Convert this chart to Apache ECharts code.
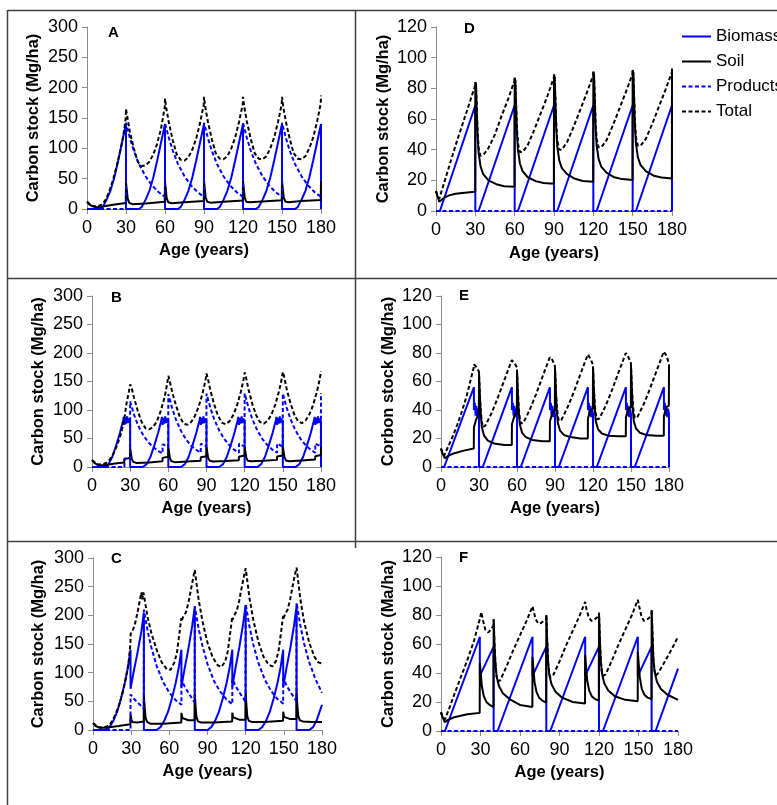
<!DOCTYPE html>
<html>
<head>
<meta charset="utf-8">
<script src="https://cdn.jsdelivr.net/npm/echarts@6/dist/echarts.min.js"></script>
<style>
html, body { margin: 0; padding: 0; background: #fff; }
#chart { width: 777px; height: 805px; }
</style>
</head>
<body>
<div id="chart"></div>
<script>
// axis ticks
var AGE_MIN = 0, AGE_MAX = 180, AGE_STEP = 30;
var arrStockAxisABC = [0, 300, 50];
var arrStockAxisDEF = [0, 120, 20];
var arrLegend = ['Biomass', 'Soil', 'Products', 'Total'];

//#region panel A
var arrBiomassA = [[0,0],[10,0],[12,3],[15,15],[18,30],[21,52],[24,80],[27,110],[30,140],[30,0],
    [40,0],[42,3],[45,15],[48,30],[51,52],[54,80],[57,110],[60,140],[60,0],
    [70,0],[72,3],[75,15],[78,30],[81,52],[84,80],[87,110],[90,140],[90,0],
    [100,0],[102,3],[105,15],[108,30],[111,52],[114,80],[117,110],[120,140],[120,0],
    [130,0],[132,3],[135,15],[138,30],[141,52],[144,80],[147,110],[150,140],[150,0],
    [160,0],[162,3],[165,15],[168,30],[171,52],[174,80],[177,110],[180,140],[180,0]];
var arrSoilA = [[0,12],[2,7],[5,4],[8,3],[12,4],[20,7],[29.8,10],[30,43],[30.6,32],[31.3,17],[32.5,10],[35,8],[45,9],
    [59.8,12],[60,45],[60.6,33],[61.3,18],[62.5,11],[65,9.5],[75,11],
    [89.8,13],[90,46],[90.6,34],[91.3,19],[92.5,12],[95,10.5],[105,12],
    [119.8,14],[120,46],[120.6,34],[121.3,19],[122.5,12],[125,11],[135,12.5],
    [149.8,14.5],[150,46],[150.6,34],[151.3,19],[152.5,12.5],[155,11],[165,13],
    [179.8,15],[180,46]];
var arrProductsA = [[0,0],[30,0],[30,142],[33,117],[36,96],[40,74],[45,54],[50,39],[55,28],[60,20],
    [60,142],[63,117],[66,96],[70,74],[75,54],[80,39],[85,28],[90,20],
    [90,142],[93,117],[96,96],[100,74],[105,54],[110,39],[115,28],[120,20],
    [120,142],[123,117],[126,96],[130,74],[135,54],[140,39],[145,28],[150,20],
    [150,142],[153,117],[156,96],[160,74],[165,54],[170,39],[175,28],[180,20]];
var arrTotalA = [[0,12],[4,5],[8,4],[11,7],[14,14],[17,28],[20,48],[23,72],[26,100],[28,122],[29.8,150],[30,165],
    [31,152],[33,127],[36,100],[39,78],[42,71],[45,72],[48,78],[51,90],[54,108],[57,133],[59.8,168],[60,182],
    [61,166],[63,142],[66,113],[69,90],[72,81],[75,80],[78,85],[81,98],[84,116],[87,142],[89.8,172],[90,185],
    [91,168],[93,144],[96,115],[99,92],[102,83],[105,82],[108,87],[111,100],[114,118],[117,144],[119.8,173],[120,185],
    [121,168],[123,144],[126,115],[129,92],[132,83],[135,82],[138,87],[141,100],[144,118],[147,144],[149.8,173],[150,185],
    [151,168],[153,144],[156,115],[159,92],[162,83],[165,82],[168,87],[171,100],[174,118],[177,144],[179.8,174],[180,187]];
//#endregion

//#region panel B
var arrBiomassB = [[0,0],[10,0],[13,5],[16,18],[19,38],[22,60],[24.5,82],[25,88],[25.5,74],[26.2,86],[26.8,76],[27.6,89],[28.2,77],[29,85],[29.6,78],[30,82],[30,0],
    [40,0],[43,5],[46,18],[49,38],[52,60],[54.5,82],[55,88],[55.5,74],[56.2,86],[56.8,76],[57.6,89],[58.2,77],[59,85],[59.6,78],[60,82],[60,0],
    [70,0],[73,5],[76,18],[79,38],[82,60],[84.5,82],[85,88],[85.5,74],[86.2,86],[86.8,76],[87.6,89],[88.2,77],[89,85],[89.6,78],[90,82],[90,0],
    [100,0],[103,5],[106,18],[109,38],[112,60],[114.5,82],[115,88],[115.5,74],[116.2,86],[116.8,76],[117.6,89],[118.2,77],[119,85],[119.6,78],[120,82],[120,0],
    [130,0],[133,5],[136,18],[139,38],[142,60],[144.5,82],[145,88],[145.5,74],[146.2,86],[146.8,76],[147.6,89],[148.2,77],[149,85],[149.6,78],[150,82],[150,0],
    [160,0],[163,5],[166,18],[169,38],[172,60],[174.5,82],[175,88],[175.5,74],[176.2,86],[176.8,76],[177.6,89],[178.2,77],[179,85],[179.6,78],[180,82],[180,0]];
var arrSoilB = [[0,12],[2,7],[5,3],[10,3],[18,6],[25.4,8],[25.5,14],[29.9,16],[30,32],[30.6,24],[31.3,14],[32.5,9],[35,7],[45,8],
    [55.4,10],[55.5,16],[59.9,18],[60,34],[60.6,25],[61.3,15],[62.5,10],[65,8.5],[75,9.5],
    [85.4,11],[85.5,17],[89.9,19],[90,35],[90.6,26],[91.3,16],[92.5,11],[95,9.5],[105,10.5],
    [115.4,12],[115.5,18],[119.9,20],[120,35],[120.6,26],[121.3,16],[122.5,11],[125,10],[135,11],
    [145.4,12.5],[145.5,18.5],[149.9,20],[150,36],[150.6,27],[151.3,17],[152.5,11.5],[155,10],[165,11.5],
    [175.4,13],[175.5,19],[179.9,21],[180,35]];
var arrProductsB = [[0,0],[25.5,0],[25.5,15],[29.9,14],[30,115],[33,92],[36,74],[40,57],[44,44],[48,35],[52,28],[55.5,24],[55.5,40],[59.9,35],
    [60,128],[63,103],[66,83],[70,63],[74,48],[78,37],[82,30],[85.5,25],[85.5,41],[89.9,36],
    [90,129],[93,104],[96,84],[100,64],[104,49],[108,38],[112,30],[115.5,25],[115.5,41],[119.9,36],
    [120,129],[123,104],[126,84],[130,64],[134,49],[138,38],[142,30],[145.5,25],[145.5,41],[149.9,36],
    [150,129],[153,104],[156,84],[160,64],[164,49],[168,38],[172,30],[175.5,25],[175.5,41],[179.9,36],[180,130]];
var arrTotalB = [[0,12],[4,5],[8,4],[11,7],[14,13],[17,24],[20,40],[23,60],[25.5,85],[27,110],[29,132],[30,145],
    [31,140],[33,122],[36,98],[39,79],[42,68],[45,66],[48,70],[51,80],[54,98],[57,122],[59,145],[60,160],
    [61,152],[63,132],[66,108],[69,88],[72,76],[75,74],[78,79],[81,90],[84,107],[87,130],[89,150],[90,164],
    [91,156],[93,135],[96,110],[99,90],[102,78],[105,75],[108,80],[111,91],[114,108],[117,132],[119,152],[120,166],
    [121,158],[123,136],[126,111],[129,91],[132,79],[135,76],[138,81],[141,92],[144,109],[147,133],[149,153],[150,167],
    [151,159],[153,137],[156,112],[159,92],[162,80],[165,77],[168,82],[171,93],[174,110],[177,134],[179,154],[180,168]];
//#endregion

//#region panel C
var arrBiomassC = [[0,0],[10,0],[13,5],[16,16],[19,32],[22,55],[25,82],[27.5,110],[29.5,140],[29.5,72],[32,102],[35,135],[38,172],[40,205],[40,0],
    [50,0],[53,5],[56,16],[59,32],[62,55],[65,82],[67.5,110],[69.5,140],[69.5,75],[72,107],[75,142],[78,182],[80,215],[80,0],
    [90,0],[93,5],[96,16],[99,32],[102,55],[105,82],[107.5,110],[109.5,140],[109.5,75],[112,108],[115,144],[118,185],[120,218],[120,0],
    [130,0],[133,5],[136,16],[139,32],[142,55],[145,82],[147.5,110],[149.5,140],[149.5,75],[152,107],[155,142],[158,182],[160,215],[160,0],
    [170,0],[173,5],[176,18],[180,44]];
var arrSoilC = [[0,12],[2,7],[5,4],[10,4],[20,7],[29.4,10],[29.5,27],[30.2,18],[31,14],[35,13],[39.9,15],
    [40,60],[40.6,40],[41.3,22],[42.5,14],[45,11],[55,11],[69.4,13],[69.5,30],[70.2,21],[71,18],[75,17],[79.9,17],
    [80,63],[80.6,42],[81.3,23],[82.5,15],[85,13],[95,13],[109.4,15],[109.5,30],[110.2,22],[111,19],[115,18],[119.9,18],
    [120,64],[120.6,43],[121.3,24],[122.5,16],[125,14],[135,14],[149.4,16],[149.5,32],[150.2,23],[151,20],[155,19],[159.9,19],
    [160,65],[160.6,44],[161.3,25],[162.5,17],[165,15],[172,14],[180,14]];
var arrProductsC = [[0,0],[29.5,0],[29.5,62],[32,55],[35,48],[39.9,38],
    [40,210],[43,172],[46,143],[50,112],[55,84],[60,65],[65,52],[69.5,44],[69.5,88],[72,76],[75,65],[79.9,48],
    [80,216],[83,177],[86,147],[90,115],[95,86],[100,67],[105,53],[109.5,45],[109.5,89],[112,77],[115,66],[119.9,49],
    [120,220],[123,180],[126,149],[130,117],[135,88],[140,68],[145,54],[149.5,46],[149.5,90],[152,78],[155,67],[159.9,50],
    [160,222],[163,182],[166,150],[170,118],[175,88],[180,65]];
var arrTotalC = [[0,12],[4,5],[8,4],[11,6],[14,12],[17,24],[20,40],[23,62],[26,92],[28,118],[29.4,150],[29.6,168],
    [31,172],[33,185],[35,205],[37,228],[38,240],[38.8,228],[39.5,240],[40,236],
    [41,222],[43,196],[46,168],[50,140],[54,118],[58,106],[61,105],[64,118],[66,135],[68,170],[69.4,195],[69.6,190],
    [71,198],[73,205],[75,222],[77,245],[79,268],[80,279],
    [81,262],[83,228],[86,190],[90,152],[94,127],[98,113],[101,110],[104,120],[106,138],[108,172],[109.4,197],[109.6,192],
    [111,200],[113,208],[115,226],[117,250],[119,272],[120,282],
    [121,265],[123,230],[126,192],[130,154],[134,128],[138,114],[141,111],[144,121],[146,140],[148,174],[149.4,199],[149.6,194],
    [151,202],[153,210],[155,228],[157,252],[159,274],[160,283],
    [161,265],[163,228],[166,188],[170,152],[174,128],[177,118],[180,116]];
//#endregion

//#region panel D
var arrBiomassD = [[0,0],[3,0],[30,69],[30,0],[32.5,0],[60,69],[60,0],[62.5,0],[90,69],[90,0],
    [92.5,0],[120,69],[120,0],[122.5,0],[150,69],[150,0],[152.5,0],[180,69],[180,0]];
var arrSoilD = [[0,13],[1,10],[2.5,6],[4,6.5],[6,8.5],[10,10.2],[15,11.2],[20,11.8],[29.9,12.5],
    [30,84],[30.5,82],[31,68],[31.7,50],[32.5,38],[34,29],[36,24],[40,20],[46,17.5],[52,16.2],[59.9,15.8],
    [60,87],[60.5,85],[61,71],[61.7,52],[62.5,40],[64,31],[66,26],[70,22],[76,19.5],[82,18.3],[89.9,17.8],
    [90,89],[90.5,87],[91,73],[91.7,54],[92.5,42],[94,33],[96,28],[100,24],[106,21],[112,19.6],[119.9,19],
    [120,91],[120.5,89],[121,75],[121.7,55],[122.5,43],[124,34],[126,29],[130,25],[136,22],[142,20.8],[149.9,20.2],
    [150,92],[150.5,90],[151,76],[151.7,56],[152.5,44],[154,35],[156,30],[160,26],[166,23],[172,21.8],[179.9,21.2],[180,93]];
var arrProductsD = [[0,0],[180,0]];
var arrTotalD = [[0,13],[1,10],[2.5,8],[5,15],[10,29],[15,43],[20,56],[25,69],[29.9,82],[30,84],
    [30.5,82],[31,69],[31.7,52],[32.5,41],[34,36],[36,36.5],[40,41],[45,50],[50,62],[55,73],[59.9,85],[60,87],
    [60.5,85],[61,72],[61.7,55],[62.5,44],[64,38.5],[66,38.5],[70,43],[75,53],[80,64],[85,75],[89.9,87],[90,89],
    [90.5,87],[91,74],[91.7,57],[92.5,46],[94,40],[96,40],[100,45],[105,55],[110,66],[115,77],[119.9,88.5],[120,91],
    [120.5,89],[121,76],[121.7,58],[122.5,47],[124,41.5],[126,41.5],[130,46],[135,56],[140,67],[145,78],[149.9,89.5],[150,92],
    [150.5,90],[151,77],[151.7,59],[152.5,48],[154,42.5],[156,42.5],[160,47],[165,57],[170,68],[175,79],[179.9,90.5],[180,93]];
//#endregion

//#region panel E
var arrBiomassE = [[0,0],[2.5,0],[26,56],[26,40],[26.7,45],[27.3,36],[28,43],[28.6,35],[29.3,41],[30,37],[30,0],
    [33,0],[56,56],[56,40],[56.7,45],[57.3,36],[58,43],[58.6,35],[59.3,41],[60,37],[60,0],
    [63,0],[86,56],[86,40],[86.7,45],[87.3,36],[88,43],[88.6,35],[89.3,41],[90,37],[90,0],
    [93,0],[116,56],[116,40],[116.7,45],[117.3,36],[118,43],[118.6,35],[119.3,41],[120,37],[120,0],
    [123,0],[146,56],[146,40],[146.7,45],[147.3,36],[148,43],[148.6,35],[149.3,41],[150,37],[150,0],
    [153,0],[176,56],[176,40],[176.7,45],[177.3,36],[178,43],[178.6,35],[179.3,41],[180,37],[180,0]];
var arrSoilE = [[0,13],[1,10],[3,6],[5,7.5],[10,9.5],[18,11.5],[25.9,13],[26,28],[27,31],[28,34],[29.9,36],
    [30,66],[30.6,52],[31.3,38],[32.2,28],[34,22],[37,18.5],[42,16.5],[50,15.5],[55.9,15.5],[56,30],[57,33],[58,36],[59.9,38],
    [60,68],[60.6,54],[61.3,40],[62.2,30],[64,24],[67,21],[72,19],[80,18],[85.9,18],[86,32],[87,35],[88,38],[89.9,40],
    [90,69.5],[90.6,55],[91.3,41],[92.2,31],[94,25.5],[97,22.5],[102,21],[110,20],[115.9,20],[116,34],[117,37],[118,40],[119.9,41],
    [120,70.5],[120.6,56],[121.3,42],[122.2,32],[124,26.5],[127,23.5],[132,22],[140,21.5],[145.9,21.5],[146,35],[147,38],[148,41],[149.9,42],
    [150,71],[150.6,56],[151.3,42],[152.2,32],[154,27],[157,24],[162,22.5],[170,22],[175.9,22],[176,36],[177,39],[178,42],[179.9,43],[180,72]];
var arrProductsE = [[0,0],[180,0]];
var arrTotalE = [[0,13],[1,10],[2.5,8],[5,13],[10,23],[15,35],[20,49],[25.9,70],[26,72],[26.5,73],[28,70],[29.9,67],[30,66],
    [30.6,52],[31.3,40],[32.2,32],[33,28],[35,29],[40,38],[45,49],[50,61],[55.9,75],[56,76],[56.5,76],[58,73],[59.9,70],[60,68],
    [60.6,55],[61.3,42],[62.2,34],[63,30.5],[65,31],[70,40],[75,51],[80,63],[85.9,77],[86,78],[86.5,78],[88,75],[89.9,71],[90,69.5],
    [90.6,56],[91.3,44],[92.2,36],[93,32.5],[95,33],[100,42],[105,53],[110,65],[115.9,79],[116,79.5],[116.5,79.5],[118,76],[119.9,72],[120,70.5],
    [120.6,57],[121.3,45],[122.2,37],[123,33.5],[125,34],[130,43],[135,54],[140,66],[145.9,80],[146,80.5],[146.5,81],[148,77],[149.9,73],[150,71],
    [150.6,57],[151.3,46],[152.2,38],[153,34.5],[155,35],[160,44],[165,55],[170,67],[175.9,81],[176,81],[176.5,81.5],[178,78],[179.9,73],[180,72]];
//#endregion

//#region panel F
var arrBiomassF = [[0,0],[3,0],[29.5,65],[29.5,38],[39.9,58],[40,0],[43,0],[69.5,65],[69.5,38],[79.9,58],[80,0],
    [83,0],[109.5,65],[109.5,38],[119.9,58],[120,0],[123,0],[149.5,65],[149.5,38],[159.9,58],[160,0],[163,0],[180,43]];
var arrSoilF = [[0,13],[1,10],[3,6],[5,7.5],[10,9.5],[20,11.5],[29.4,12.5],[29.5,47],[30.2,40],[31,31],[32.5,24],[34.5,20],[37,18],[39.9,16.5],
    [40,77],[40.6,60],[41.3,47],[42.2,38],[44,31],[47,26],[52,22],[60,18],[69.4,16.6],[69.5,51],[70.2,43],[71,34],[72.5,27],[74.5,23],[77,21],[79.9,19.5],
    [80,80],[80.6,63],[81.3,48],[82.2,39],[84,32],[87,27],[92,23],[100,20],[109.4,19],[109.5,52.5],[110.2,44],[111,35],[112.5,28],[114.5,24],[117,22],[119.9,21],
    [120,81.5],[120.6,64],[121.3,49],[122.2,40],[124,33],[127,28],[132,24],[140,21.5],[149.4,20.5],[149.5,54.5],[150.2,46],[151,37],[152.5,29],[154.5,25],[157,23],[159.9,22],
    [160,83.5],[160.6,66],[161.3,50],[162.2,41],[164,34],[167,29],[172,25],[180,21.5]];
var arrProductsF = [[0,0],[180,0]];
var arrTotalF = [[0,13],[1,10],[3,8],[6,15],[10,25],[15,37],[20,49],[25,62],[29.4,77],[30.6,82],[32,76],[33.6,70],[36,68],[38,70],[39.9,73],[40,77],
    [40.6,60],[41.3,47],[42.2,38],[43,34],[45,35],[50,45],[55,56],[60,66],[65,76],[69.5,86],[70.5,82],[72,77],[74,74],[76,74.5],[78,76],[79.9,77],[80,80],
    [80.6,63],[81.3,48],[82.2,40],[83,37],[85,38],[90,48],[95,59],[100,69],[105,79],[109.5,89],[110.5,84],[112,79],[114,76],[116,76.5],[118,78],[119.9,79],[120,81.5],
    [120.6,64],[121.3,49],[122.2,41],[123,38],[125,39],[130,49],[135,60],[140,70],[145,80],[149.5,90.5],[150.5,86],[152,80],[154,76],[156,76.5],[158,78],[159.9,80],[160,83.5],
    [160.6,66],[161.3,50],[162.2,42],[163,38],[165,40],[170,48],[175,56],[180,65]];
//#endregion

var FONT = '"Liberation Sans", Arial, sans-serif';

var arrPanels = [
    { letter: 'A', letterPos: [108, 25], yName: 'Carbon stock (Mg/ha)', yAxis: arrStockAxisABC, rect: [87, 27, 234, 182], yGap: 45, xGap: 33,
        data: [arrBiomassA, arrSoilA, arrProductsA, arrTotalA] },
    { letter: 'D', letterPos: [464, 21], yName: 'Carbon stock (Mg/ha)', yAxis: arrStockAxisDEF, rect: [436, 27, 236, 184], yGap: 44, xGap: 34,
        data: [arrBiomassD, arrSoilD, arrProductsD, arrTotalD] },
    { letter: 'B', letterPos: [111, 290], yName: 'Carbon stock (Mg/ha)', yAxis: arrStockAxisABC, rect: [92, 296, 229, 171], yGap: 45, xGap: 33,
        data: [arrBiomassB, arrSoilB, arrProductsB, arrTotalB] },
    { letter: 'E', letterPos: [459, 288], yName: 'Corbon stock (Mg/ha)', yAxis: arrStockAxisDEF, rect: [441, 296, 228, 171], yGap: 44, xGap: 33,
        data: [arrBiomassE, arrSoilE, arrProductsE, arrTotalE] },
    { letter: 'C', letterPos: [111, 551], yName: 'Carbon stock (Mg/ha)', yAxis: arrStockAxisABC, rect: [93, 558, 229, 172], yGap: 46, xGap: 33,
        data: [arrBiomassC, arrSoilC, arrProductsC, arrTotalC] },
    { letter: 'F', letterPos: [459, 550], yName: 'Carbon stock (Ma/ha)', yAxis: arrStockAxisDEF, rect: [441, 557, 237, 174], yGap: 44, xGap: 33,
        data: [arrBiomassF, arrSoilF, arrProductsF, arrTotalF] }
];

var oLineStyles = {
    Biomass: { color: '#0000ff', type: 'solid', z: 2 },
    Soil: { color: '#000000', type: 'solid', z: 3 },
    Products: { color: '#0000ff', type: [4, 2.5], z: 4 },
    Total: { color: '#000000', type: [4, 2.5], z: 5 }
};

var m_oChart = echarts.init(document.getElementById('chart'), null, { renderer: 'canvas' });

var arrGrids = [], arrX = [], arrY = [], arrSeries = [], arrTitles = [];
var oAxisLine = { show: true, lineStyle: { color: '#8c8c8c', width: 1 } };
var oAxisTick = { show: true, length: 5, lineStyle: { color: '#8c8c8c', width: 1 } };
var oNameStyle = { fontFamily: FONT, fontSize: 16.5, fontWeight: 'bold', color: '#000' };

arrPanels.forEach(function (p, i) {
    arrGrids.push({ left: p.rect[0], top: p.rect[1], width: p.rect[2], height: p.rect[3], outerBoundsMode: 'none' });
    arrX.push({
        gridIndex: i, type: 'value', min: AGE_MIN, max: AGE_MAX, interval: AGE_STEP,
        axisLine: oAxisLine, axisTick: oAxisTick, splitLine: { show: false },
        axisLabel: { color: '#000', fontFamily: FONT, fontSize: 18, margin: 10 },
        name: 'Age (years)', nameLocation: 'middle', nameGap: p.xGap, nameTextStyle: oNameStyle
    });
    arrY.push({
        gridIndex: i, type: 'value', min: p.yAxis[0], max: p.yAxis[1], interval: p.yAxis[2],
        axisLine: oAxisLine, axisTick: oAxisTick, splitLine: { show: false },
        axisLabel: { color: '#000', fontFamily: FONT, fontSize: 18, margin: 9 },
        name: p.yName, nameLocation: 'middle', nameGap: p.yGap, nameRotate: 90, nameTextStyle: oNameStyle
    });
    arrTitles.push({
        text: p.letter, left: p.letterPos[0], top: p.letterPos[1], padding: 0,
        textStyle: { fontFamily: FONT, fontSize: 15, fontWeight: 'bold', color: '#000' }
    });
    arrLegend.forEach(function (strName, k) {
        var s = oLineStyles[strName];
        arrSeries.push({
            name: strName, type: 'line', xAxisIndex: i, yAxisIndex: i,
            data: p.data[k], symbol: 'none', showSymbol: false, clip: false, silent: true, z: s.z,
            lineStyle: { color: s.color, width: 2, type: s.type },
            itemStyle: { color: s.color }
        });
    });
});

// table borders around the six panels
var oBorder = { stroke: '#404040', lineWidth: 1.5 };
var arrBorders = [
    [8, 10.5, 777, 10.5], [7.5, 10, 7.5, 805], [355.5, 10, 355.5, 548],
    [8, 278.5, 777, 278.5], [8, 541.5, 777, 541.5]
].map(function (a) {
    return { type: 'line', silent: true, shape: { x1: a[0], y1: a[1], x2: a[2], y2: a[3] }, style: oBorder };
});

m_oChart.setOption({
    animation: false,
    backgroundColor: '#fff',
    title: arrTitles,
    legend: {
        data: arrLegend, orient: 'vertical', left: 681, top: 28, padding: 0,
        itemWidth: 29, itemHeight: 14, itemGap: 8,
        itemStyle: { opacity: 0 },
        textStyle: { fontFamily: FONT, fontSize: 17, color: '#000', lineHeight: 17 }
    },
    grid: arrGrids,
    xAxis: arrX,
    yAxis: arrY,
    series: arrSeries,
    graphic: arrBorders
});
</script>
</body>
</html>
